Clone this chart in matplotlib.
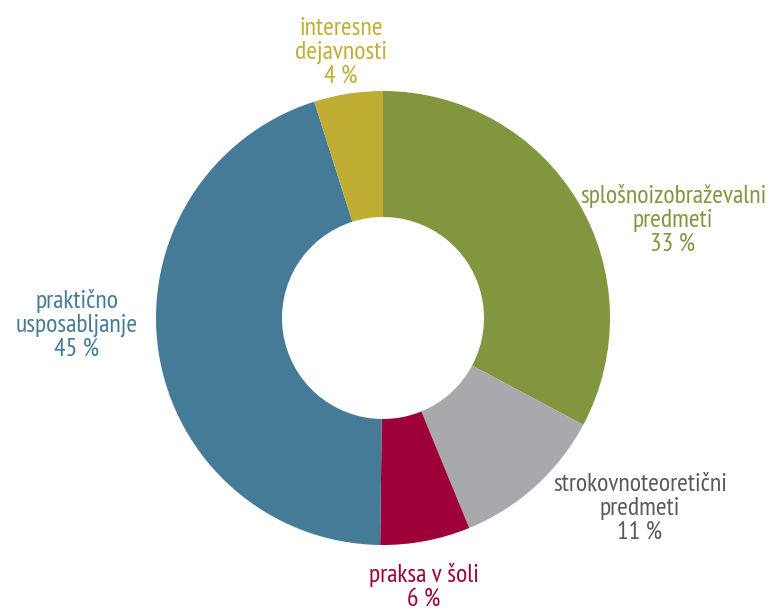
import matplotlib.pyplot as plt

# data
categories = [
    "splošnoizobraževalni\npredmeti",
    "strokovnoteoretični\npredmeti",
    "praksa v šoli",
    "praktično\nusposabljanje",
    "interesne\ndejavnosti",
]
shares = [32.8, 11.0, 6.4, 44.9, 4.9]
pct_labels = ["33 %", "11 %", "6 %", "45 %", "4 %"]

colors = ["#84953F", "#A7A9AC", "#9E0039", "#457B96", "#BFAE33"]
text_colors = ["#84953F", "#58595B", "#9E0039", "#457B96", "#BFAE33"]

# label anchor points (pixel coords, origin top-left)
label_xy = [(673, 220), (640, 508), (424, 587), (77, 325), (341, 52)]

plt.rcParams["font.family"] = ["PT Sans Narrow", "DejaVu Sans"]

W, H = 774, 611
fig = plt.figure(figsize=(W / 100, H / 100), dpi=100)
ax = fig.add_axes([0, 0, 1, 1])

ax.pie(
    shares,
    colors=colors,
    startangle=90,
    counterclock=False,
    center=(383, H - 318),
    radius=227,
    wedgeprops=dict(width=227 - 101, linewidth=0),
    frame=True,
)
ax.set_xlim(0, W)
ax.set_ylim(0, H)
ax.set_aspect("equal")
ax.axis("off")

for name, pct, (x, y), c in zip(categories, pct_labels, label_xy, text_colors):
    ax.text(x, H - y, f"{name}\n{pct}", ha="center", va="center",
            color=c, fontsize=18.5, linespacing=1.04)

fig.savefig("out.png", dpi=100)
